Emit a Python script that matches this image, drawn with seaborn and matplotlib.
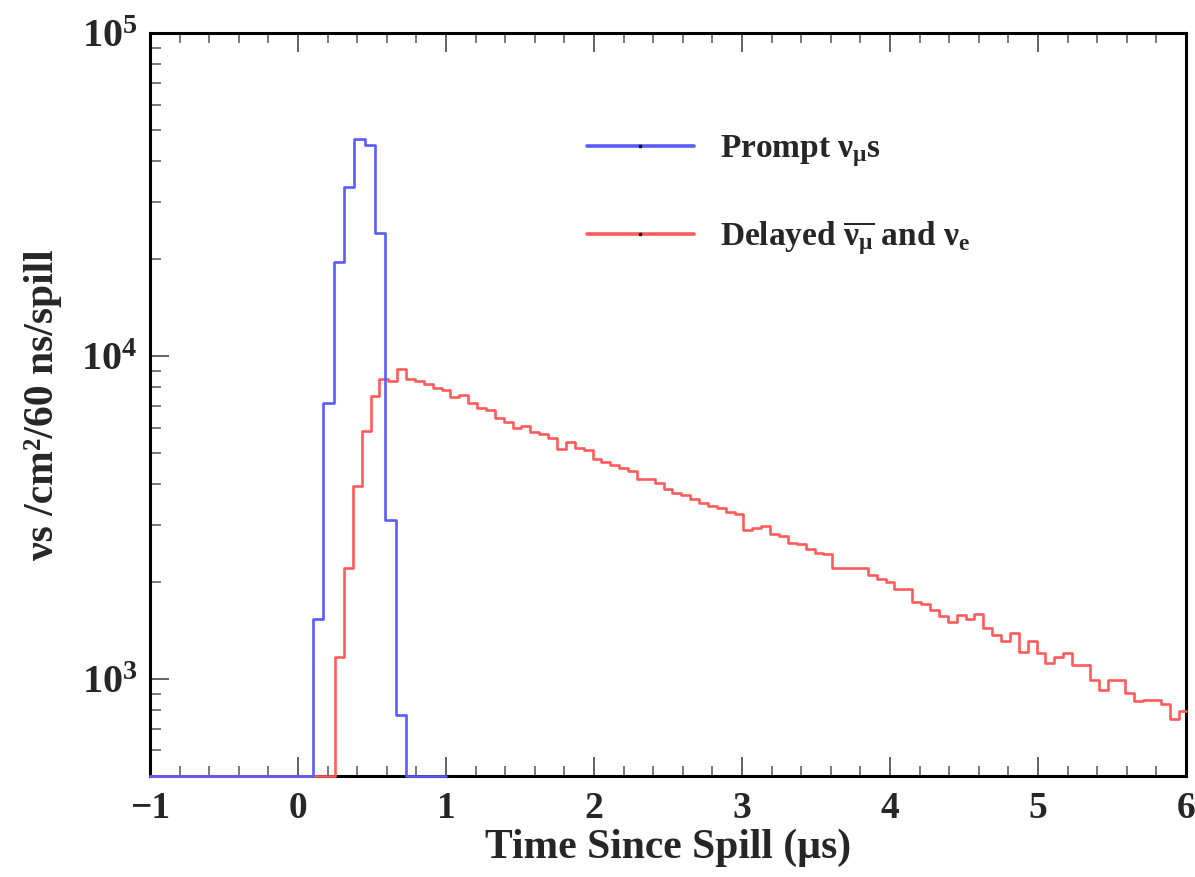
import numpy as np
import pandas as pd
import seaborn as sns
import matplotlib
matplotlib.use("Agg")
import matplotlib.pyplot as plt
from matplotlib.lines import Line2D
from matplotlib.ticker import LogLocator, FixedLocator, MultipleLocator, FuncFormatter, NullFormatter

# prompt nu_mu : variable bins, zero outside the beam pulse
prompt_edges = [-1.0, 0.10, 0.17, 0.24, 0.31, 0.38, 0.45, 0.52, 0.59, 0.66, 0.73, 1.0]
prompt_counts = [0, 1530, 7150, 19500, 33400, 46800, 45000, 24000, 3100, 770, 0]

# delayed anti-nu_mu and nu_e : 60 ns bins starting at 0.25 us
delayed_start = 0.25
delayed_width = 0.06
delayed_counts = [
    1170, 2200, 3950, 5850, 7500, 8480, 8360, 9110, 8480, 8360,
    8190, 7960, 7840, 7460, 7570, 7150, 6900, 6800, 6420, 6240,
    5980, 6060, 5810, 5730, 5570, 5140, 5410, 5180, 5110, 4790,
    4690, 4590, 4490, 4400, 4150, 4150, 4030, 3860, 3750, 3700,
    3600, 3500, 3420, 3370, 3280, 3230, 2880, 2920, 2970, 2800,
    2760, 2630, 2610, 2530, 2460, 2430, 2210, 2210, 2210, 2210,
    2100, 2030, 2000, 1890, 1890, 1730, 1710, 1630, 1560, 1500,
    1580, 1530, 1590, 1440, 1370, 1310, 1390, 1210, 1310, 1200,
    1120, 1170, 1200, 1100, 1100, 990, 920, 990, 990, 905,
    855, 860, 860, 835, 750, 795,
]
delayed_edges = [-1.0] + [round(delayed_start + delayed_width * k, 3) for k in range(len(delayed_counts))] + [6.0]
delayed_counts = [0] + delayed_counts

labels = [r"Prompt $\nu_{\mu}$s", r"Delayed $\overline{\nu_{\mu}}$ and $\nu_{e}$"]
colors = ["#5b5bff", "#ff5b5b"]

ymin, ymax = 500, 1e5

sns.set_theme(style="white")
plt.rcParams["font.family"] = ["Liberation Serif", "DejaVu Serif"]
plt.rcParams["font.weight"] = "bold"
plt.rcParams["mathtext.fontset"] = "custom"
plt.rcParams["mathtext.rm"] = "Liberation Serif:bold"
plt.rcParams["mathtext.it"] = "Liberation Serif:bold"
plt.rcParams["mathtext.bf"] = "Liberation Serif:bold"
plt.rcParams["mathtext.default"] = "rm"
plt.rcParams["axes.unicode_minus"] = True

fig = plt.figure(figsize=(11.95, 8.77), dpi=100)
ax = fig.add_axes([0.1255, 0.1152, 0.867, 0.8472])


def draw_hist(edges, counts, color):
    edges = np.asarray(edges, dtype=float)
    counts = np.asarray(counts, dtype=float)
    # empty bins sit on the frame, like ROOT draws them
    df = pd.DataFrame({"t": 0.5 * (edges[:-1] + edges[1:]),
                       "n": np.where(counts > 0, counts, ymin)})
    sns.histplot(data=df, x="t", weights="n", bins=list(edges), element="step", fill=False,
                 color=color, linewidth=1.9, ax=ax, zorder=3, clip_on=False)


draw_hist(delayed_edges, delayed_counts, colors[1])
draw_hist(prompt_edges, prompt_counts, colors[0])

ax.set_yscale("log")
ax.set_xlim(-1, 6)
ax.set_ylim(ymin, ymax)

ax.xaxis.set_major_locator(MultipleLocator(1))
ax.xaxis.set_minor_locator(MultipleLocator(0.2))
ax.yaxis.set_major_locator(FixedLocator([1e3, 1e4, 1e5]))
ax.yaxis.set_minor_locator(LogLocator(base=10, subs=np.arange(2, 10)))
ax.yaxis.set_minor_formatter(NullFormatter())
ax.yaxis.set_major_formatter(FuncFormatter(lambda v, p: r"$10^{%d}$" % int(round(np.log10(v)))))

ax.tick_params(axis="x", which="both", direction="in", top=True, bottom=True,
               labelsize=27, pad=11, color="#555555")
ax.tick_params(axis="x", which="major", length=14, width=1.3)
ax.tick_params(axis="x", which="minor", length=7, width=1.1)
ax.tick_params(axis="y", which="both", direction="in", left=True, right=False,
               labelsize=29, pad=9, color="#555555")
ax.tick_params(axis="y", which="major", length=14, width=1.3)
ax.tick_params(axis="y", which="minor", length=8, width=1.1)

for s in ax.spines.values():
    s.set_color("black")
    s.set_linewidth(2.2)

ax.set_xlabel("Time Since Spill (µs)", fontsize=30, fontweight="bold", labelpad=2)
ax.set_ylabel("νs /cm²/60 ns/spill", fontsize=30, fontweight="bold", labelpad=14)

handles = [Line2D([0], [0], color=c, linewidth=2.6, marker="s", markersize=1.6,
                  markerfacecolor="black", markeredgecolor="black") for c in colors]
ax.legend(handles, labels, loc="upper left", bbox_to_anchor=(0.393, 0.905),
          frameon=False, handlelength=3.2, handletextpad=0.8,
          labelspacing=1.5, prop={"weight": "bold", "size": 24})

fig.savefig("out.png", dpi=100, facecolor="white")
